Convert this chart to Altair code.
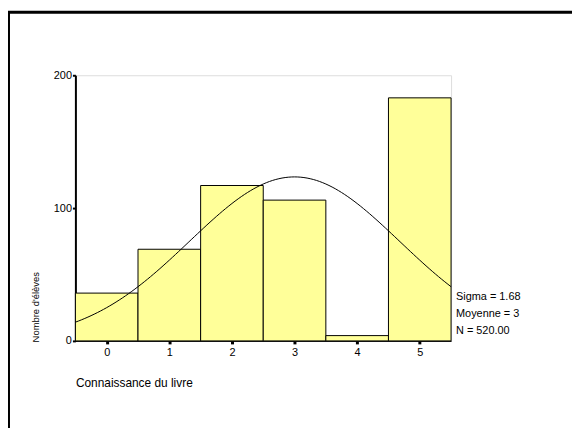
import altair as alt
import pandas as pd

# Data
scores = [0, 1, 2, 3, 4, 5]
counts = [36, 69, 117, 106, 4, 183]
sigma = 1.68
mean = 3.0
n_total = 520
stats_lines = ["Sigma = 1.68", "Moyenne = 3", "N = 520.00"]

x_title = "Connaissance du livre"
y_title = "Nombre d'élèves"

FONT = "Liberation Sans"

bars_df = pd.DataFrame({"score": scores, "count": counts})

xscale = alt.Scale(domain=[-0.5, 5.5], nice=False, zero=False)
yscale = alt.Scale(domain=[0, 200], nice=False)

bars = alt.Chart(bars_df).transform_calculate(
    x0="datum.score - 0.5", x1="datum.score + 0.5"
).mark_bar(fill="#FFFF99", stroke="black", strokeWidth=1).encode(
    x=alt.X("x0:Q", scale=xscale,
            axis=alt.Axis(values=scores, title=x_title, format="d",
                          grid=False, domainColor="black", domainWidth=1,
                          tickColor="black", tickSize=3, tickWidth=3,
                          labelPadding=3, labelFontSize=11, labelFont=FONT,
                          labelColor="black", titleFont=FONT, titleFontSize=12,
                          titleFontWeight="normal", titleColor="black",
                          titleAnchor="start", titleAlign="left", titleX=0,
                          titleY=42, titleBaseline="middle")),
    x2="x1:Q",
    y=alt.Y("count:Q", scale=yscale,
            axis=alt.Axis(values=[0, 100, 200], title=y_title, grid=False,
                          domainColor="black", domainWidth=2,
                          tickColor="black", tickSize=3, tickWidth=2,
                          labelPadding=1, labelFontSize=11, labelFont=FONT,
                          labelColor="black", titleFont=FONT, titleFontSize=9.5,
                          titleFontWeight="normal", titleColor="black",
                          titleAngle=270, titleAlign="left",
                          titleBaseline="bottom", titleX=-35, titleY=269)),
    y2=alt.datum(0),
)

curve = alt.Chart(alt.sequence(-0.5, 5.51, 0.05, as_="x")).transform_calculate(
    y=f"{n_total} / ({sigma} * sqrt(2 * PI)) * exp(-0.5 * pow((datum.x - {mean}) / {sigma}, 2))"
).mark_line(color="black", strokeWidth=1).encode(
    x=alt.X("x:Q", scale=xscale),
    y=alt.Y("y:Q", scale=yscale),
)

stats_df = pd.DataFrame({"label": ["\n".join(stats_lines)], "xpos": [5.5], "ypos": [0]})
stats = alt.Chart(stats_df).mark_text(
    align="left", baseline="top", dx=5, dy=-50, lineBreak="\n",
    lineHeight=17, fontSize=11, font=FONT, color="black"
).encode(
    x=alt.X("xpos:Q", scale=xscale),
    y=alt.Y("ypos:Q", scale=yscale),
    text="label:N",
)

frame = alt.Chart(pd.DataFrame({"k": [0]})).mark_rect(
    fill=None, stroke="black", strokeWidth=3
).encode(
    x=alt.value(-67.5), x2=alt.value(620),
    y=alt.value(-63.5), y2=alt.value(500),
)

chart = alt.layer(bars, curve, stats, frame).properties(
    width=379, height=268,
    autosize=alt.AutoSizeParams(type="none"),
    padding={"left": 68, "top": 66, "right": 122, "bottom": 86},
).configure_view(stroke="#555555", strokeWidth=1).configure(background="white")

chart.save("out.html", embed_options={"renderer": "svg", "actions": False})
